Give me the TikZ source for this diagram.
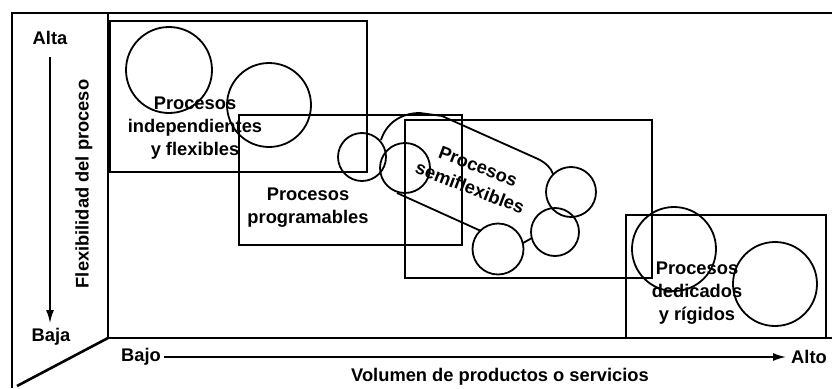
\documentclass[tikz,border=0pt]{standalone}
\usepackage{fontspec}
\setmainfont{Liberation Sans}
\usetikzlibrary{arrows.meta,calc}
\tikzset{
  frame/.style={line width=2.6pt},
  box/.style={line width=2.2pt},
  ring/.style={line width=1.8pt},
  lbl/.style={font=\bfseries\fontsize{18.3}{23}\selectfont, align=center, inner sep=0pt},
  axarrow/.style={line width=1.6pt, -{Latex[length=13pt,width=8pt]}}
}
\begin{document}
\begin{tikzpicture}[x=1pt,y=-1pt]
\useasboundingbox (0,0) rectangle (832,388);
% frame
\draw[frame] (12,388) -- (12,13) -- (832,13);
\draw[frame] (108,13) -- (108,338) -- (832,338);
\draw[frame] (108,338) -- (17,386);
% boxes
\draw[box] (110,21) rectangle (367,172);
\draw[box] (239,115) rectangle (462,245);
\draw[box] (405,120) rectangle (652,278);
\draw[box] (626,215) rectangle (826,338);
% circles
\draw[ring] (169,70) circle (43);
\draw[ring] (269,105) circle (42);
\draw[ring] (362,157) circle (24);
\draw[ring] (405,168) circle (25);
\draw[ring] (571,192) circle (25);
\draw[ring] (555,232) circle (24);
\draw[ring] (498,249) circle (25.5);
\draw[ring] (674,249) circle (42);
\draw[ring] (775,284) circle (42);
% blob outline of semiflexible processes
\draw[ring] (381,140) .. controls (386,124) and (400,113) .. (420,113) -- (442,116) -- (538,159) .. controls (546,163) and (551,168) .. (553,174);
\draw[ring] (397,193) -- (481,231);
\draw[ring] (523,243) -- (532,238);
% texts
\node[lbl] (t1) at (195,128) {Procesos\\independientes\\y flexibles};
\node[lbl] (t2) at (308,208) {Procesos\\programables};
\node[lbl, rotate=-21] (t3) at (474,177) {Procesos\\semiflexibles};
\node[lbl] (t4) at (697,293) {Procesos\\dedicados\\y rígidos};
% axes
\node[lbl] (alta) at (50,38) {Alta};
\node[lbl] (baja) at (51,337) {Baja};
\coordinate (va) at (50,57);
\coordinate (vb) at (50,323);
\draw[axarrow] (va) -- (vb);
\node[lbl, rotate=90] (flex) at (84,184) {Flexibilidad del proceso};
\node[lbl] (bajo) at (141,357) {Bajo};
\node[lbl] (alto) at (809,357) {Alto};
\coordinate (ha) at ($(bajo.east)+(3,0)$);
\coordinate (hb) at ($(alto.west)+(-5,0)$);
\draw[axarrow] (ha) -- (hb);
\node[lbl] (vol) at (500,377) {Volumen de productos o servicios};
\end{tikzpicture}
\end{document}
